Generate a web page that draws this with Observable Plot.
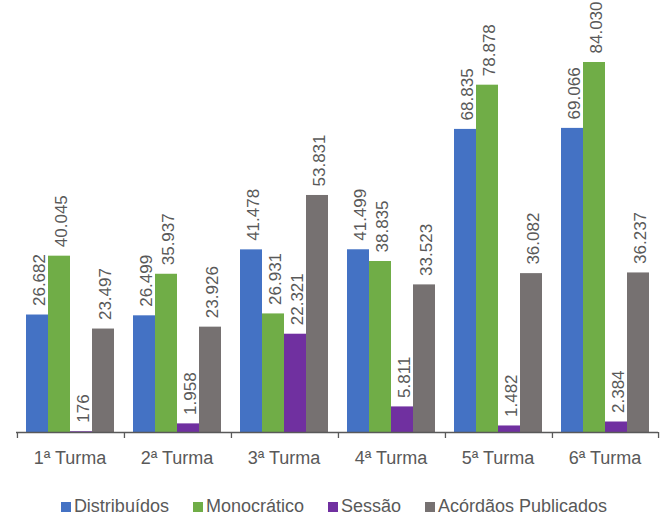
<!DOCTYPE html>
<html>
<head>
<meta charset="utf-8">
<script src="https://cdn.jsdelivr.net/npm/d3@7"></script>
<script src="https://cdn.jsdelivr.net/npm/@observablehq/plot@0.6"></script>
<style>
  body { margin: 0; background: #fff; }
  #chart { width: 668px; }
  .legend { display: flex; justify-content: center; align-items: center; gap: 24px; margin-top: 16px;
    font-family: "Liberation Sans Narrow", "Arial Narrow", "Liberation Sans", sans-serif; font-size: 18px; color: #595959; }
  .legend span.item { display: flex; align-items: center; }
  .legend span.sw { display: inline-block; width: 10px; height: 10px; margin-right: 3px; }
</style>
</head>
<body>
<div id="chart"></div>
<script>
const turmas = ["1ª Turma", "2ª Turma", "3ª Turma", "4ª Turma", "5ª Turma", "6ª Turma"];
const series = ["Distribuídos", "Monocrático", "Sessão", "Acórdãos Publicados"];
const colors = ["#4472C4", "#70AD47", "#7030A0", "#767171"];
const distribuidos = [26682, 26499, 41478, 41499, 68835, 69066];
const monocratico = [40045, 35937, 26931, 38835, 78878, 84030];
const sessao = [176, 1958, 22321, 5811, 1482, 2384];
const acordaos = [23497, 23926, 53831, 33523, 36082, 36237];

const valuesBySeries = [distribuidos, monocratico, sessao, acordaos];
const data = [];
turmas.forEach((t, i) => series.forEach((s, j) => data.push({turma: t, serie: s, value: valuesBySeries[j][i]})));

const fmt = d3.formatLocale({decimal: ",", thousands: ".", grouping: [3], currency: ["R$", ""]}).format(",d");
const font = '"Liberation Sans Narrow", "Arial Narrow", "Liberation Sans", sans-serif';

const W = 668, mL = 14, mR = 8;
const pOuter = 0.39;
const facetW = (W - mL - mR) / turmas.length;
const step = facetW / (series.length + 2 * pOuter);
const edge = pOuter * step + step / 2;

const chart = Plot.plot({
  width: W,
  height: 480,
  marginLeft: mL,
  marginRight: mR,
  marginTop: 62,
  marginBottom: 48,
  style: {fontFamily: font, color: "#595959", background: "#fff"},
  fx: {domain: turmas, paddingInner: 0, paddingOuter: 0, label: null},
  x: {domain: series, paddingInner: 0, paddingOuter: pOuter, axis: null},
  y: {domain: [0, 84030], axis: null},
  color: {domain: series, range: colors},
  marks: [
    Plot.barY(data, {fx: "turma", x: "serie", y: "value", fill: "serie"}),
    Plot.text(data, {fx: "turma", x: "serie", y: "value", text: d => fmt(d.value), rotate: -90,
      textAnchor: "start", lineAnchor: "middle", dx: 2, dy: -9, fontSize: 17, fill: "#595959"}),
    Plot.ruleY([0], {stroke: "#595959", strokeWidth: 1.3}),
    Plot.ruleX(turmas, {fx: d => d, x: () => series[0], y1: 0, y2: 0, insetBottom: -6, dx: -edge, stroke: "#595959", strokeWidth: 1.3}),
    Plot.ruleX([turmas[turmas.length - 1]], {fx: d => d, x: () => series[series.length - 1], y1: 0, y2: 0, insetBottom: -6, dx: edge, stroke: "#595959", strokeWidth: 1.3}),
    Plot.axisFx({anchor: "bottom", tickSize: 0, tickPadding: 19, fontSize: 18, fill: "#595959", label: null})
  ]
});
document.getElementById("chart").appendChild(chart);

const legend = document.createElement("div");
legend.className = "legend";
series.forEach((s, i) => {
  const item = document.createElement("span");
  item.className = "item";
  const sw = document.createElement("span");
  sw.className = "sw";
  sw.style.background = colors[i];
  item.appendChild(sw);
  item.appendChild(document.createTextNode(s));
  legend.appendChild(item);
});
document.getElementById("chart").appendChild(legend);
</script>
</body>
</html>
